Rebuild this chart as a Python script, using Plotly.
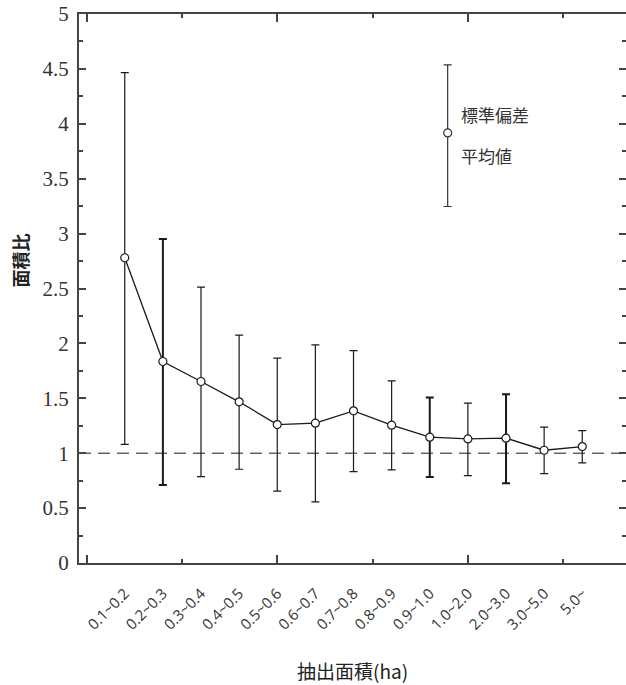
import plotly.graph_objects as go

# ---- data ----
categories = ["0.1~0.2", "0.2~0.3", "0.3~0.4", "0.4~0.5", "0.5~0.6", "0.6~0.7",
              "0.7~0.8", "0.8~0.9", "0.9~1.0", "1.0~2.0", "2.0~3.0", "3.0~5.0", "5.0~"]
mean_ratio = [2.78, 1.835, 1.653, 1.468, 1.261, 1.273, 1.386, 1.255, 1.146, 1.130, 1.137, 1.027, 1.060]
sd_upper = [1.686, 1.116, 0.860, 0.608, 0.605, 0.714, 0.549, 0.404, 0.361, 0.326, 0.401, 0.210, 0.146]
sd_lower = [1.699, 1.124, 0.866, 0.614, 0.607, 0.717, 0.554, 0.407, 0.362, 0.334, 0.410, 0.213, 0.148]
thick_bars = [1, 8, 10]  # bars printed with a heavier stroke

y_ticks = [0, 0.5, 1, 1.5, 2, 2.5, 3, 3.5, 4, 4.5, 5]
y_ticktext = ["0", "0.5", "1", "1.5", "2", "2.5", "3", "3.5", "4", "4.5", "5"]
x_frame_ticks = [-1, 1.5, 4, 6.5, 9, 11.5]
reference_level = 1.0

# legend sample (in data units)
legend_x = [8.47]
legend_mean = [3.917]
legend_up = [0.62]
legend_down = [0.67]
legend_labels = ["標準偏差", "平均値"]

X_RANGE = [-1.2, 13.147]
Y_RANGE = [0, 5]

fig = go.Figure()

thin_bars = [i for i in range(len(categories)) if i not in thick_bars]
for group, width in ((thin_bars, 1.2), (thick_bars, 2.0)):
    fig.add_trace(go.Scatter(
        x=[categories[i] for i in group],
        y=[mean_ratio[i] for i in group],
        mode="markers",
        marker=dict(size=1, color="rgba(0,0,0,0)"),
        error_y=dict(type="data", symmetric=False,
                     array=[sd_upper[i] for i in group],
                     arrayminus=[sd_lower[i] for i in group],
                     color="#1a1a1a", thickness=width, width=4),
        showlegend=False, hoverinfo="skip", xaxis="x", yaxis="y"))

fig.add_trace(go.Scatter(
    x=categories, y=mean_ratio, mode="lines+markers",
    line=dict(color="#1a1a1a", width=1.3),
    marker=dict(symbol="circle", size=8, color="white",
                line=dict(color="#1a1a1a", width=1.2)),
    showlegend=False, xaxis="x", yaxis="y"))

fig.add_trace(go.Scatter(
    x=legend_x, y=legend_mean, mode="markers",
    marker=dict(symbol="circle", size=8, color="white",
                line=dict(color="#333333", width=1.2)),
    error_y=dict(type="data", symmetric=False, array=legend_up, arrayminus=legend_down,
                 color="#333333", thickness=1.2, width=4),
    showlegend=False, xaxis="x2", yaxis="y"))

fig.add_shape(type="line", xref="paper", x0=0, x1=1, yref="y",
              y0=reference_level, y1=reference_level,
              line=dict(color="#1a1a1a", width=1, dash="12px,7px"), layer="below")

fig.add_annotation(x=legend_x[0], y=legend_mean[0], xref="x2", yref="y",
                   text=legend_labels[0], showarrow=False, xanchor="left", yanchor="middle",
                   xshift=11, yshift=18, font=dict(family="Noto Sans CJK JP", size=17, color="#333333"))
fig.add_annotation(x=legend_x[0], y=legend_mean[0], xref="x2", yref="y",
                   text=legend_labels[1], showarrow=False, xanchor="left", yanchor="middle",
                   xshift=11, yshift=-23, font=dict(family="Noto Sans CJK JP", size=17, color="#333333"))

fig.add_annotation(x=0.5, y=-0.1967, xref="paper", yref="paper", text="抽出面積(ha)",
                   showarrow=False, xanchor="center", yanchor="middle",
                   font=dict(family="Noto Sans CJK JP", size=19, color="#222222"))
fig.add_annotation(x=-0.108, y=0.551, xref="paper", yref="paper", text="<b>面積比</b>",
                   showarrow=False, textangle=-90, xanchor="center", yanchor="middle",
                   font=dict(family="Noto Sans CJK JP", size=18, color="#222222"))

axis_color = "#444444"
fig.update_layout(
    width=626, height=685,
    margin=dict(l=79, r=0, t=14, b=122, autoexpand=False),
    paper_bgcolor="white", plot_bgcolor="white",
    xaxis=dict(type="category", categoryorder="array", categoryarray=categories,
               range=X_RANGE, showgrid=False, zeroline=False, automargin=False,
               showline=False, ticks="", tickangle=-45, ticklabelstandoff=18,
               tickfont=dict(family="Open Sans", size=15, color="#333333")),
    xaxis2=dict(overlaying="x", type="linear", range=X_RANGE, side="bottom",
                showgrid=False, zeroline=False, showline=True, linecolor=axis_color,
                linewidth=2, mirror="ticks", ticks="inside", tickvals=[-1, 4, 9],
                ticklen=8, tickwidth=1.5, tickcolor=axis_color, showticklabels=False,
                automargin=False,
                minor=dict(tickvals=x_frame_ticks, ticks="inside", ticklen=4,
                           tickwidth=1.5, tickcolor=axis_color)),
    yaxis=dict(range=Y_RANGE, showgrid=False, zeroline=False, showline=True,
               linecolor=axis_color, linewidth=2, mirror="ticks", ticks="inside",
               tickvals=y_ticks, ticktext=y_ticktext, ticklen=7, tickwidth=1.5,
               tickcolor=axis_color, ticklabelstandoff=4, automargin=False,
               ticklabeloverflow="allow",
               tickfont=dict(family='"Liberation Serif", "DejaVu Serif", serif', size=21,
                             color="#333333"),
               minor=dict(dtick=0.25, ticks="inside", ticklen=4, tickwidth=1.5,
                          tickcolor=axis_color)),
)

# remove the default 8px page margin so the figure sits at the window origin
fig.write_html("out.html", config={"displayModeBar": False},
               post_script="document.body.style.margin='0px';")
